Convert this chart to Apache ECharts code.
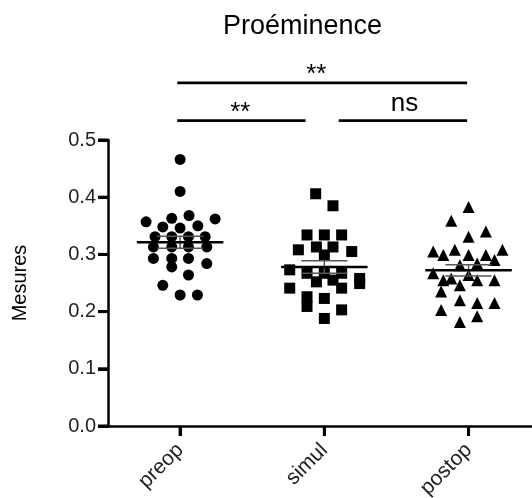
<!DOCTYPE html>
<html>
<head>
    <meta charset="utf-8">
    <title>Proéminence</title>
    <script src="https://cdn.jsdelivr.net/npm/echarts@6/dist/echarts.min.js"></script>
    <style>
        body { margin: 0; background: #fff; }
        #main { width: 532px; height: 498px; }
    </style>
</head>
<body>
    <div id="main"></div>
    <script type="text/javascript">
        // groups on the x axis
        var categories = ['preop', 'simul', 'postop'];

        // measured values, one array per group
        var preopValues = [0.466, 0.410, 0.357, 0.363, 0.368, 0.362, 0.348, 0.346, 0.350, 0.331, 0.331, 0.331, 0.331,
            0.313, 0.313, 0.313, 0.313, 0.293, 0.293, 0.293, 0.278, 0.284, 0.264, 0.246, 0.229, 0.229];
        var simulValues = [0.406, 0.385, 0.334, 0.334, 0.334, 0.308, 0.313, 0.313, 0.305, 0.299, 0.273, 0.267, 0.267,
            0.267, 0.258, 0.249, 0.241, 0.226, 0.209, 0.223, 0.241, 0.203, 0.188, 0.252, 0.255];
        var postopValues = [0.383, 0.359, 0.331, 0.340, 0.305, 0.299, 0.308, 0.299, 0.299, 0.308, 0.281, 0.284, 0.290,
            0.267, 0.255, 0.258, 0.264, 0.255, 0.255, 0.246, 0.235, 0.220, 0.215, 0.215, 0.203, 0.192, 0.182];

        // horizontal scatter of each dot around its group (in group units)
        var preopJitter = [0, 0, -0.236, -0.058, 0.062, 0.243, -0.12, 0, 0.123, -0.174, -0.058, 0.058, 0.174,
            -0.185, -0.058, 0.058, 0.185, -0.185, -0.058, 0.058, -0.058, 0.185, 0.058, -0.12, 0, 0.12];
        var simulJitter = [-0.06, 0.06, -0.12, 0, 0.12, -0.18, -0.055, 0.06, 0.19, 0, -0.24, -0.12, 0,
            0.12, 0.245, 0.245, -0.24, -0.12, -0.12, 0, 0.12, 0.12, 0, -0.055, 0.06];
        var postopJitter = [0, -0.12, 0, 0.12, -0.245, -0.175, -0.095, 0, 0.12, 0.235, -0.06, 0.06, 0.18,
            -0.245, -0.175, -0.12, 0, 0.06, 0.18, -0.06, -0.19, -0.06, 0.06, 0.18, -0.19, 0.06, -0.06];

        var yTicks = [0, 0.1, 0.2, 0.3, 0.4, 0.5];

        var groups = [
            { values: preopValues, jitter: preopJitter, symbol: 'circle', size: 11 },
            { values: simulValues, jitter: simulJitter, symbol: 'rect', size: 11 },
            { values: postopValues, jitter: postopJitter, symbol: 'triangle', size: 12 }
        ];

        var font = "'Liberation Sans', Arial, sans-serif";
        var ink = '#000';
        var xMin = -0.5, xMax = 2.44;
        var tickLen = 10;

        function stats(arr) {
            var n = arr.length, sum = 0, ss = 0;
            arr.forEach(function (v) { sum += v; });
            var mean = sum / n;
            arr.forEach(function (v) { ss += (v - mean) * (v - mean); });
            return [mean, Math.sqrt(ss / (n - 1)) / Math.sqrt(n)];
        }

        var series = groups.map(function (g, i) {
            return {
                type: 'scatter',
                symbol: g.symbol,
                symbolSize: g.size,
                itemStyle: { color: ink, opacity: 1 },
                silent: true,
                data: g.values.map(function (v, k) { return [i + g.jitter[k], v]; })
            };
        });

        // mean line with SEM whiskers
        series.push({
            type: 'custom',
            silent: true,
            z: 5,
            data: groups.map(function (g, i) { var s = stats(g.values); return [i, s[0], s[1]]; }),
            renderItem: function (params, api) {
                var x = api.value(0), m = api.value(1), e = api.value(2);
                var c = api.coord([x, m]);
                var hi = api.coord([x, m + e]);
                var lo = api.coord([x, m - e]);
                var half = api.size([0.3, 0])[0];
                var cap = api.size([0.16, 0])[0];
                var st = { stroke: '#555', lineWidth: 1.5 };
                return {
                    type: 'group',
                    children: [
                        { type: 'line', shape: { x1: c[0] - cap, y1: hi[1], x2: c[0] + cap, y2: hi[1] }, style: st },
                        { type: 'line', shape: { x1: c[0] - cap, y1: lo[1], x2: c[0] + cap, y2: lo[1] }, style: st },
                        { type: 'line', shape: { x1: c[0], y1: hi[1], x2: c[0], y2: lo[1] }, style: st },
                        { type: 'line', shape: { x1: c[0] - half, y1: c[1], x2: c[0] + half, y2: c[1] }, style: { stroke: ink, lineWidth: 2.5 } }
                    ]
                };
            }
        });

        var myChart = echarts.init(document.getElementById('main'));

        var option = {
            animation: false,
            title: {
                text: 'Proéminence',
                left: 218,
                top: 8,
                textStyle: { fontFamily: font, fontSize: 27, fontWeight: 'normal', color: ink }
            },
            grid: { left: 108, right: 0, top: 140, bottom: 72, containLabel: false, outerBoundsMode: 'none' },
            xAxis: {
                type: 'value',
                min: xMin,
                max: xMax,
                splitLine: { show: false },
                axisLine: { onZero: false, lineStyle: { color: ink, width: 2.5 } },
                axisTick: { show: true, customValues: [0, 1, 2], length: tickLen, lineStyle: { color: ink, width: 3 } },
                axisLabel: {
                    customValues: [0, 1, 2],
                    rotate: 45,
                    margin: 21,
                    fontFamily: font,
                    fontSize: 21,
                    color: '#222',
                    formatter: function (v) { return categories[Math.round(v)]; }
                }
            },
            yAxis: {
                type: 'value',
                min: yTicks[0],
                max: yTicks[yTicks.length - 1],
                interval: 0.1,
                name: 'Mesures',
                nameLocation: 'middle',
                nameGap: 78,
                nameTextStyle: { fontFamily: font, fontSize: 20, color: ink },
                splitLine: { show: false },
                axisLine: { show: true, onZero: false, lineStyle: { color: ink, width: 2.5 } },
                axisTick: { show: true, length: tickLen, lineStyle: { color: ink, width: 3 } },
                axisLabel: {
                    margin: 12,
                    fontFamily: font,
                    fontSize: 20,
                    color: '#222',
                    formatter: function (v) { return v.toFixed(1); }
                }
            },
            series: series
        };

        myChart.setOption(option);

        var graphic = [];

        // outward tick marks on both axes (same spots as the axis ticks)
        yTicks.forEach(function (v) {
            var p = myChart.convertToPixel({ gridIndex: 0 }, [xMin, v]);
            graphic.push({ type: 'line', z: 10, shape: { x1: p[0] - tickLen, y1: p[1], x2: p[0], y2: p[1] }, style: { stroke: ink, lineWidth: 3 } });
        });
        categories.forEach(function (c, i) {
            var p = myChart.convertToPixel({ gridIndex: 0 }, [i, yTicks[0]]);
            graphic.push({ type: 'line', z: 10, shape: { x1: p[0], y1: p[1], x2: p[0], y2: p[1] + tickLen }, style: { stroke: ink, lineWidth: 3 } });
        });

        // significance bars, placed in data coordinates
        var bars = [
            { from: -0.02, to: 1.99, y: 0.600 },
            { from: -0.02, to: 0.87, y: 0.534 },
            { from: 1.10, to: 1.99, y: 0.534 }
        ];
        var notes = [
            { text: '**', x: 0.944, y: 0.600, dy: -8 },
            { text: '**', x: 0.417, y: 0.534, dy: -8 },
            { text: 'ns', x: 1.556, y: 0.534, dy: -17 }
        ];
        bars.forEach(function (b) {
            var p1 = myChart.convertToPixel({ gridIndex: 0 }, [b.from, b.y]);
            var p2 = myChart.convertToPixel({ gridIndex: 0 }, [b.to, b.y]);
            graphic.push({ type: 'line', shape: { x1: p1[0], y1: p1[1], x2: p2[0], y2: p2[1] }, style: { stroke: ink, lineWidth: 2.7 } });
        });
        notes.forEach(function (n) {
            var p = myChart.convertToPixel({ gridIndex: 0 }, [n.x, n.y]);
            graphic.push({
                type: 'text',
                x: p[0],
                y: p[1] + n.dy,
                style: { text: n.text, fill: ink, font: '26px ' + font, textAlign: 'center', textVerticalAlign: 'middle' }
            });
        });
        myChart.setOption({ graphic: graphic });
    </script>
</body>
</html>
